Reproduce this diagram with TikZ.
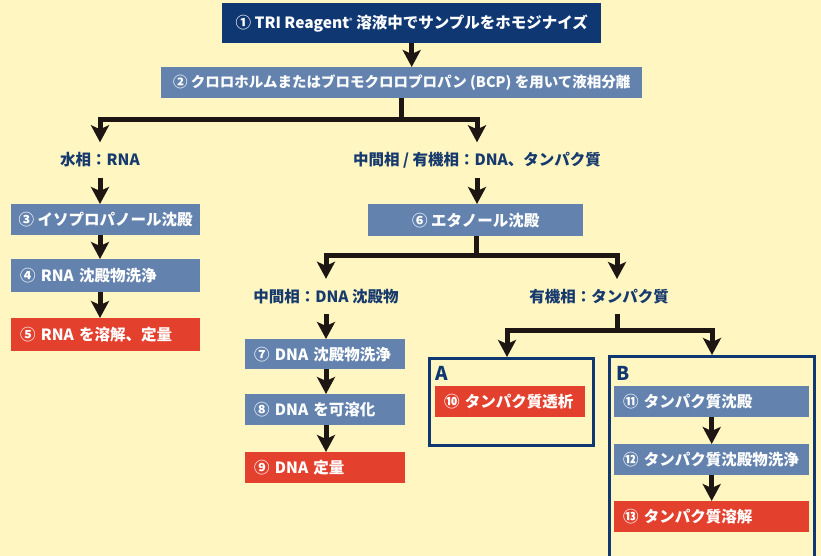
\documentclass[tikz,border=0pt]{standalone}
\usepackage{fontspec}
\setmainfont{Noto Sans CJK JP}
\usetikzlibrary{arrows.meta}
\definecolor{bg}{HTML}{FFF6C1}
\definecolor{navy}{HTML}{0F3772}
\definecolor{steel}{HTML}{6382AE}
\definecolor{redb}{HTML}{E3402E}
\definecolor{ink}{HTML}{1E1613}
\definecolor{lblc}{HTML}{173A6E}
\newcommand\procbox[7]{% name, fill, x1, y1, x2, y2, text (left aligned)
  \pgfmathsetmacro\pbw{#5-#3-18}%
  \pgfmathsetmacro\pbh{#6-#4}%
  \node[procstyle, fill=#2, align=left, text width=\pbw pt, minimum height=\pbh pt] (#1) at (#3,#4) {#7};}
\newcommand\cenbox[7]{% name, fill, x1, y1, x2, y2, text (centred, no wrapping)
  \pgfmathsetmacro\pbw{#5-#3}%
  \pgfmathsetmacro\pbh{#6-#4}%
  \node[procstyle, inner xsep=0pt, fill=#2, minimum width=\pbw pt, minimum height=\pbh pt] (#1) at (#3,#4) {#7};}
\begin{document}
\begin{tikzpicture}[x=1pt,y=-1pt,
  procstyle/.style={anchor=north west, inner xsep=9pt, inner ysep=0pt, text=white,
    font=\fontsize{15.5}{18}\selectfont\bfseries},
  phase/.style={inner sep=0pt, minimum height=35pt, text=lblc,
    font=\fontsize{15.5}{18}\selectfont\bfseries},
  frame/.style={draw=navy, line width=2.5pt, anchor=north west, inner sep=0pt},
  framelbl/.style={anchor=north west, inner sep=0pt, text=navy,
    font=\fontsize{19}{20}\selectfont\bfseries},
  line/.style={draw=ink, line width=5pt},
  conn/.style={line, -{Stealth[length=17pt,width=18pt,inset=4pt]}}]
\useasboundingbox (0,0) rectangle (821,556);
\fill[bg] (0,0) rectangle (821,556);

% boxes
\cenbox{b1}{navy}{222}{3}{601}{43}{① TRI Reagent\raisebox{5pt}{\fontsize{6.5}{7}\selectfont ®} 溶液中でサンプルをホモジナイズ}
\cenbox{b2}{steel}{161}{67}{642}{98}{\fontsize{14.5}{17}\selectfont ② クロロホルムまたはブロモクロロプロパン (BCP) を用いて液相分離}
\cenbox{b3}{steel}{11}{204}{200}{235}{③ イソプロパノール沈殿}
\procbox{b4}{steel}{11}{259}{200}{292}{④ RNA 沈殿物洗浄}
\procbox{b5}{redb}{11}{318}{200}{351}{⑤ RNA を溶解、定量}
\cenbox{b6}{steel}{368}{204}{583}{236}{⑥ エタノール沈殿}
\procbox{b7}{steel}{245}{339}{405}{369}{⑦ DNA 沈殿物洗浄}
\procbox{b8}{steel}{245}{394}{405}{425}{⑧ DNA を可溶化}
\procbox{b9}{redb}{245}{452}{405}{483}{⑨ DNA 定量}

% frames A and B
\node[frame, minimum width=164pt, minimum height=87pt] (bA) at (428,357) {};
\node[frame, minimum width=205pt, minimum height=215pt] (bB) at (608,355) {};
\node[framelbl] (tA) at (435,366) {A};
\node[framelbl] (tB) at (616,366) {B};
\procbox{b10}{redb}{435}{386}{585}{417}{⑩ タンパク質透析}
\procbox{b11}{steel}{614}{386}{809}{417}{⑪ タンパク質沈殿}
\procbox{b12}{steel}{614}{444}{809}{475}{⑫ タンパク質沈殿物洗浄}
\procbox{b13}{redb}{614}{501}{809}{532}{⑬ タンパク質溶解}

% phase labels
\node[phase] (lw) at (100,160) {水相：RNA};
\node[phase] (lm) at (477,160) {中間相 / 有機相：DNA、タンパク質};
\node[phase] (ld) at (326,296.5) {中間相：DNA 沈殿物};
\node[phase] (lp) at (599,296.5) {有機相：タンパク質};

% connectors
\draw[conn] (b1.south) -- (b1.south |- b2.north);
\coordinate (j1) at (401.5,120);
\draw[line] (b2.south -| j1) -- (j1);
\draw[conn] (j1) -| (lw.north);
\draw[conn] (j1) -| (lm.north);

\draw[conn] (lw.south) -- (lw.south |- b3.north);
\draw[conn] (lw |- b3.south) -- (lw |- b4.north);
\draw[conn] (lw |- b4.south) -- (lw |- b5.north);

\draw[conn] (lm.south) -- (lm.south |- b6.north);
\coordinate (j2) at (476,255);
\coordinate (pin) at (617,279);
\draw[line] (b6.south -| j2) -- (j2);
\draw[conn] (j2) -| (ld.north);
\draw[conn] (j2) -| (pin);

\draw[conn] (ld.south) -- (ld.south |- b7.north);
\draw[conn] (ld |- b7.south) -- (ld |- b8.north);
\draw[conn] (ld |- b8.south) -- (ld |- b9.north);

\coordinate (j3) at (617,330);
\coordinate (pA) at (507,357);
\draw[line] (pin |- lp.south) -- (j3);
\draw[conn] (j3) -| (pA);
\draw[conn] (j3) -| (bB.north -| 712,0);

\draw[conn] (b11.south) -- (b11.south |- b12.north);
\draw[conn] (b12.south) -- (b12.south |- b13.north);
\end{tikzpicture}
\end{document}
